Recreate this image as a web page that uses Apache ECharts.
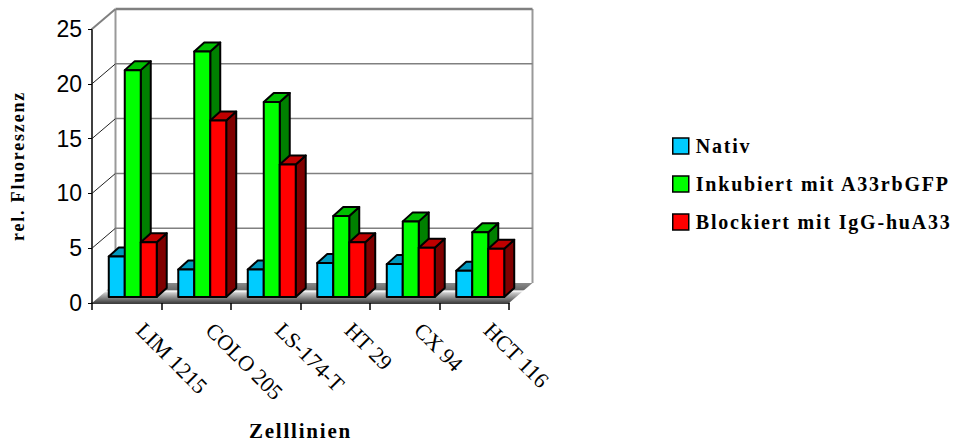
<!DOCTYPE html>
<html>
<head>
<meta charset="utf-8">
<style>
  html, body { margin: 0; background: #fff; }
  #main { width: 953px; height: 442px; }
  /* the original spaces its bold titles out */
  #main text[style*="bold"] { letter-spacing: 1.8px; }
</style>
<script src="https://cdn.jsdelivr.net/npm/echarts@6/dist/echarts.min.js"></script>
</head>
<body>
<div id="main"></div>
<script>
var categories = ['LIM 1215', 'COLO 205', 'LS-174-T', 'HT 29', 'CX 94', 'HCT 116'];
var nativ = [3.7, 2.5, 2.5, 3.1, 3.0, 2.4];
var inkubiert = [20.7, 22.4, 17.8, 7.4, 6.9, 5.9];
var blockiert = [5.0, 16.1, 12.1, 5.0, 4.5, 4.4];
var yTicks = [0, 5, 10, 15, 20, 25];

var chartDom = document.getElementById('main');
var myChart = echarts.init(chartDom, null, { renderer: 'svg' });
var option;

var SERIF = '"Liberation Serif", serif';
var WALL = [23.5, -20];   // back wall offset from the axis plane
var FRONT = [6, -6];      // front face of the bars, behind the axis plane
var DEPTH = [10, -9];     // depth of one bar

function bar3d(slot, face, top, side) {
  return function (params, api) {
    var base = api.coord([api.value(0), 0]);
    var head = api.coord([api.value(0), api.value(1)]);
    var w = api.size([1, 0])[0] * 0.23;
    var x0 = base[0] - 1.5 * w + slot * w + FRONT[0];
    var x1 = x0 + w;
    var y0 = base[1] + FRONT[1];
    var y1 = head[1] + FRONT[1];
    var dx = DEPTH[0];
    var dy = DEPTH[1];
    var line = { stroke: '#000', lineWidth: 2, lineJoin: 'round' };
    return {
      type: 'group',
      children: [
        { type: 'polygon', shape: { points: [[x1, y0], [x1 + dx, y0 + dy], [x1 + dx, y1 + dy], [x1, y1]] }, style: Object.assign({ fill: side }, line) },
        { type: 'polygon', shape: { points: [[x0, y1], [x1, y1], [x1 + dx, y1 + dy], [x0 + dx, y1 + dy]] }, style: Object.assign({ fill: top }, line) },
        { type: 'rect', shape: { x: x0, y: y1, width: w, height: y0 - y1 }, style: Object.assign({ fill: face }, line) }
      ]
    };
  };
}

function walls(params, api) {
  var v = api.value(0);
  var p = api.coord([0, v]);
  var band = api.size([1, 0])[0];
  var xl = p[0] - band / 2;
  var xr = xl + band * categories.length;
  var y = p[1];
  var children = [];
  var isTop = v === yTicks[yTicks.length - 1];
  if (v === 0) {
    children.push({
      type: 'polygon',
      shape: { points: [[xl, y], [xl + WALL[0], y + WALL[1]], [xr + WALL[0], y + WALL[1]], [xr, y]] },
      style: {
        fill: new echarts.graphic.LinearGradient(0, 0, 0, 1, [
          { offset: 0, color: '#8a8a8a' },
          { offset: 0.33, color: '#6a6a6a' },
          { offset: 0.4, color: '#ffffff' },
          { offset: 0.5, color: '#c8c8c8' },
          { offset: 1, color: '#404040' }
        ])
      }
    });
    var yt = api.coord([0, yTicks[yTicks.length - 1]])[1] + WALL[1];
    [xl + WALL[0], xr + WALL[0]].forEach(function (x) {
      children.push({ type: 'line', shape: { x1: x, y1: yt, x2: x, y2: y + WALL[1] }, style: { stroke: '#999', lineWidth: 2 } });
    });
  } else {
    children.push({ type: 'line', shape: { x1: xl, y1: y, x2: xl + WALL[0], y2: y + WALL[1] }, style: { stroke: isTop ? '#808080' : '#222', lineWidth: isTop ? 2 : 1 } });
    children.push({ type: 'line', shape: { x1: xl + WALL[0], y1: y + WALL[1], x2: xr + WALL[0], y2: y + WALL[1] }, style: { stroke: '#808080', lineWidth: isTop ? 2.5 : 1.5 } });
  }
  return { type: 'group', children: children };
}

function pairs(values) {
  return values.map(function (v, i) { return [i, v]; });
}

option = {
  animation: false,
  backgroundColor: '#fff',
  grid: { left: 92, top: 29, right: 444, bottom: 139, outerBoundsMode: 'none' },
  legend: {
    orient: 'vertical',
    left: 667,
    top: 131,
    itemGap: 18,
    itemWidth: 16,
    itemHeight: 16,
    icon: 'rect',
    selectedMode: false,
    itemStyle: { borderColor: '#000', borderWidth: 1.5 },
    textStyle: { fontFamily: SERIF, fontWeight: 'bold', fontSize: 20, color: '#000', padding: [0, 0, 0, 2] },
    data: ['Nativ', 'Inkubiert mit A33rbGFP', 'Blockiert mit IgG-huA33']
  },
  xAxis: {
    type: 'category',
    data: categories,
    name: 'Zelllinien',
    nameLocation: 'middle',
    nameGap: 117,
    nameTextStyle: { fontFamily: SERIF, fontWeight: 'bold', fontSize: 21, color: '#000' },
    axisLine: { show: true, lineStyle: { color: '#000', width: 1.5 } },
    axisTick: { show: true, length: 7, lineStyle: { color: '#000', width: 1.5 } },
    axisLabel: { interval: 0, rotate: -45, margin: 10, padding: [0, 0, 0, 19], fontFamily: SERIF, fontSize: 22, color: '#000' }
  },
  yAxis: {
    type: 'value',
    min: 0,
    max: 25,
    interval: 5,
    name: 'rel. Fluoreszenz',
    nameLocation: 'middle',
    nameRotate: 90,
    nameGap: 65,
    nameTextStyle: { fontFamily: SERIF, fontWeight: 'bold', fontSize: 18, color: '#000' },
    splitLine: { show: false },
    axisLine: { show: true, lineStyle: { color: '#000', width: 1.5 } },
    axisTick: { show: true, length: 4, lineStyle: { color: '#000', width: 1 } },
    axisLabel: { margin: 10, fontFamily: '"Liberation Sans", sans-serif', fontSize: 23, color: '#000' }
  },
  series: [
    {
      type: 'custom',
      silent: true,
      z: 1,
      renderItem: walls,
      encode: { y: 0 },
      data: yTicks.map(function (t) { return [t]; })
    },
    {
      name: 'Nativ',
      type: 'custom',
      z: 2,
      itemStyle: { color: '#00ccff' },
      renderItem: bar3d(0, '#00ccff', '#0099bf', '#006680'),
      encode: { x: 0, y: 1 },
      data: pairs(nativ)
    },
    {
      name: 'Inkubiert mit A33rbGFP',
      type: 'custom',
      z: 2,
      itemStyle: { color: '#00ff00' },
      renderItem: bar3d(1, '#00ff00', '#00bf00', '#008000'),
      encode: { x: 0, y: 1 },
      data: pairs(inkubiert)
    },
    {
      name: 'Blockiert mit IgG-huA33',
      type: 'custom',
      z: 2,
      itemStyle: { color: '#ff0000' },
      renderItem: bar3d(2, '#ff0000', '#bf0000', '#800000'),
      encode: { x: 0, y: 1 },
      data: pairs(blockiert)
    }
  ]
};

option && myChart.setOption(option);
</script>
</body>
</html>
